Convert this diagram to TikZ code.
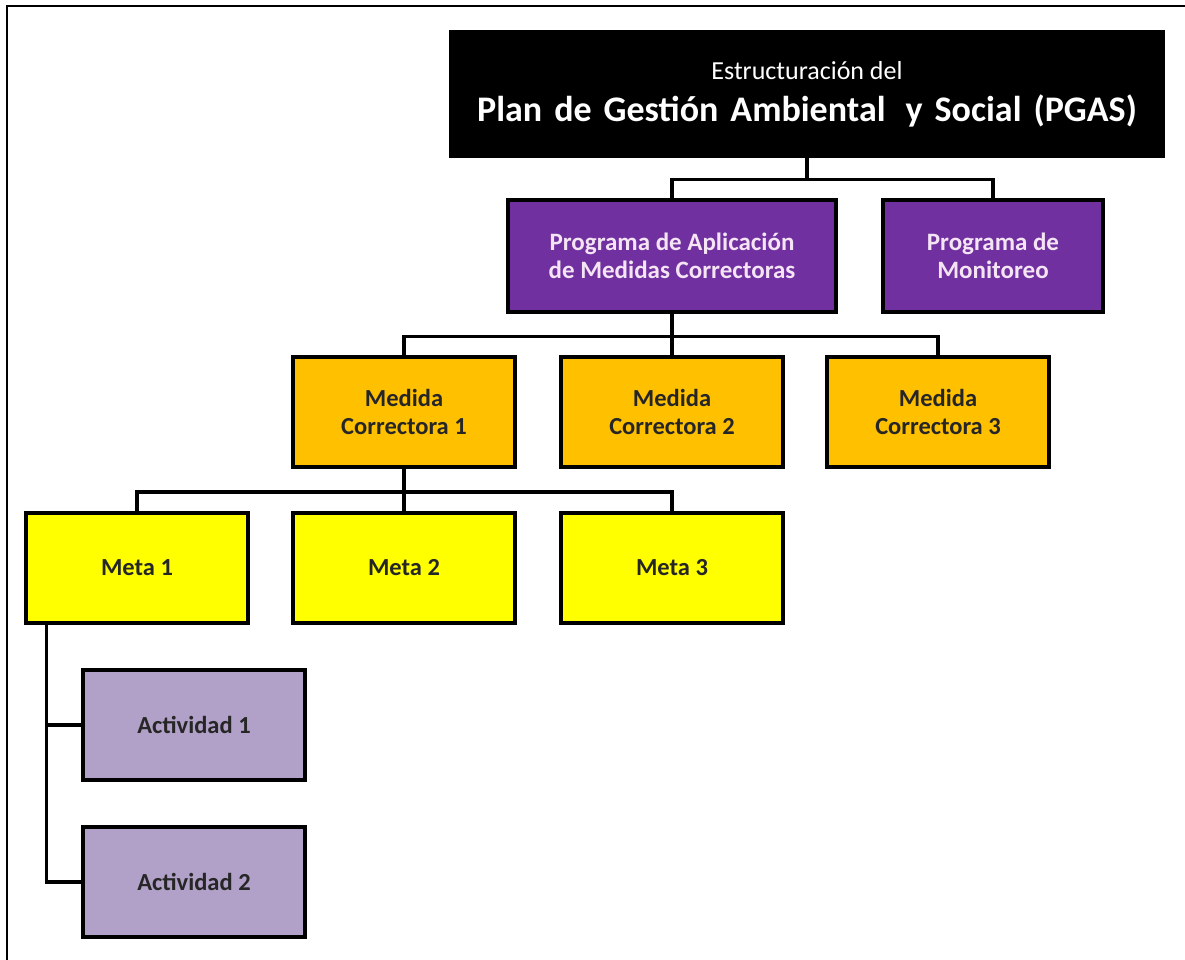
\documentclass[tikz,border=0pt]{standalone}
\usepackage{fontspec}
\setmainfont{Carlito}
\usetikzlibrary{positioning}

\definecolor{progpurple}{RGB}{112,48,160}
\definecolor{progtext}{RGB}{244,228,244}
\definecolor{medorange}{RGB}{255,192,0}
\definecolor{metayellow}{RGB}{255,255,0}
\definecolor{actlilac}{RGB}{177,160,199}

\begin{document}
\begin{tikzpicture}[
    x=1pt, y=-1pt,
    box/.style={
        rectangle,
        draw=black,
        line width=3.5pt,
        align=center,
        inner sep=0pt,
        font=\bfseries\fontsize{24.5}{28}\selectfont
    },
    pgasbox/.style={box, fill=black, text=white, minimum width=712pt, minimum height=124pt, font=\mdseries},
    programa/.style={box, fill=progpurple, text=progtext, minimum height=112pt, font=\bfseries\fontsize{25}{28}\selectfont},
    medida/.style={box, fill=medorange, text=black!85, minimum width=222pt, minimum height=110pt},
    meta/.style={box, fill=metayellow, text=black!85, minimum width=222pt, minimum height=110pt},
    actividad/.style={box, fill=actlilac, text=black!85, minimum width=222pt, minimum height=110pt},
    link/.style={line width=3.5pt}
]
\useasboundingbox (0,0) rectangle (1185,960);

% frame
\draw[line width=2pt] (1185,6) -- (7,6) -- (7,960);

% LEVEL 0
\node[pgasbox] (PGAS) at (807,94) {\fontsize{26}{28}\selectfont Estructuración del\\[14pt]
    \bfseries\fontsize{36}{40}\selectfont\spaceskip=12pt Plan de Gestión Ambiental\hspace{8pt} y Social (PGAS)};

% LEVEL 1
\node[programa, minimum width=328pt] (PA) at (672,256) {Programa de Aplicación\\de Medidas Correctoras};
\node[programa, minimum width=220pt] (PM) at (993,256) {Programa de\\Monitoreo};

% LEVEL 2
\node[medida, below=41.5pt of PA] (MC2) {Medida\\Correctora 2};
\node[medida, left=42.5pt of MC2] (MC1) {Medida\\Correctora 1};
\node[medida, right=40.5pt of MC2] (MC3) {Medida\\Correctora 3};

% LEVEL 3
\node[meta, below=42.5pt of MC1] (M2) {Meta 2};
\node[meta, left=41.5pt of M2] (M1) {Meta 1};
\node[meta, right=42.5pt of M2] (M3) {Meta 3};

% LEVEL 4
\node[actividad] (A1) at (194,725) {Actividad 1};
\node[actividad, below=43.5pt of A1] (A2) {Actividad 2};

% --- CONNECTORS ---
% from PGAS
\draw[link] (PGAS.south) -- ++(0,22) -| (PA.north);
\draw[link] (PGAS.south) -- ++(0,22) -| (PM.north);

% from PA
\draw[link] (PA.south) -- ++(0,22.5) -| (MC1.north);
\draw[link] (PA.south) -- (MC2.north);
\draw[link] (PA.south) -- ++(0,22.5) -| (MC3.north);

% from MC1
\draw[link] (MC1.south) -- ++(0,23) -| (M1.north);
\draw[link] (MC1.south) -- (M2.north);
\draw[link] (MC1.south) -- ++(0,23) -| (M3.north);

% from M1
\draw[link] ([xshift=22pt]M1.south west) |- (A1.west);
\draw[link] ([xshift=22pt]M1.south west) |- (A2.west);

\end{tikzpicture}
\end{document}
